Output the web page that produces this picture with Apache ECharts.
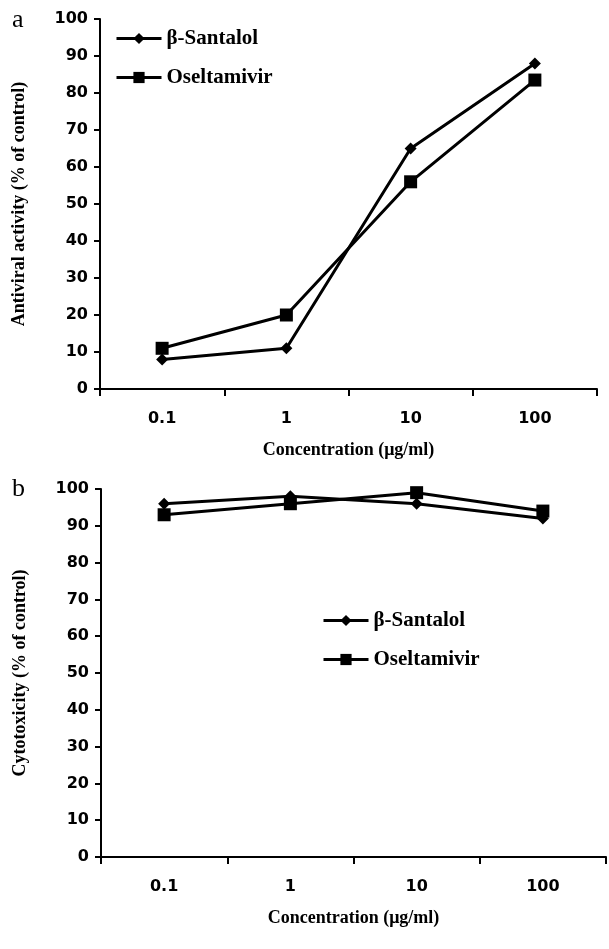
<!DOCTYPE html>
<html>
<head>
<meta charset="utf-8">
<script src="https://cdn.jsdelivr.net/npm/echarts@6/dist/echarts.min.js"></script>
<style>
  html, body { margin: 0; padding: 0; background: #fff; }
  #chart { width: 609px; height: 949px; }
</style>
</head>
<body>
<div id="chart"></div>
<script>
var concentrations = ['0.1', '1', '10', '100'];

// panel a: antiviral activity
var antiviralSantalol = [8, 11, 65, 88];
var antiviralOseltamivir = [11, 20, 56, 83.5];

// panel b: cytotoxicity
var cytoSantalol = [96, 98, 96, 92];
var cytoOseltamivir = [93, 96, 99, 94];

var tickFont = { fontFamily: 'DejaVu Sans', fontWeight: 'bold', fontSize: 16, color: '#000' };
var titleFont = 'Liberation Serif';

var chartDom = document.getElementById('chart');
var myChart = echarts.init(chartDom);

function xAxis(idx) {
    return {
        type: 'category',
        gridIndex: idx,
        data: concentrations,
        boundaryGap: true,
        name: 'Concentration (μg/ml)',
        nameLocation: 'middle',
        nameGap: 52,
        nameTextStyle: { fontFamily: titleFont, fontWeight: 'bold', fontSize: 18, color: '#000' },
        axisLine: { lineStyle: { color: '#000', width: 2 } },
        axisTick: { show: true, length: 7, lineStyle: { color: '#000', width: 2 } },
        axisLabel: Object.assign({ margin: 22 }, tickFont),
        splitLine: { show: false }
    };
}

function yAxis(idx, title) {
    return {
        type: 'value',
        gridIndex: idx,
        min: 0,
        max: 100,
        interval: 10,
        name: title,
        nameLocation: 'middle',
        nameGap: 72,
        nameTextStyle: { fontFamily: titleFont, fontWeight: 'bold', fontSize: 18, color: '#000' },
        axisLine: { show: true, lineStyle: { color: '#000', width: 2 } },
        axisTick: { show: true, length: 6, lineStyle: { color: '#000', width: 2 } },
        axisLabel: Object.assign({ margin: 12 }, tickFont),
        splitLine: { show: false }
    };
}

function line(name, data, idx, symbol, size) {
    return {
        name: name,
        type: 'line',
        xAxisIndex: idx,
        yAxisIndex: idx,
        data: data,
        symbol: symbol,
        symbolSize: size,
        showSymbol: true,
        itemStyle: { color: '#000' },
        lineStyle: { color: '#000', width: 3 },
        animation: false
    };
}

var legendText = { fontFamily: titleFont, fontWeight: 'bold', fontSize: 21, color: '#000' };
var legendNames = ['β-Santalol', 'Oseltamivir'];

var option = {
    backgroundColor: '#fff',
    animation: false,
    graphic: [
        { type: 'text', left: 12, top: 7, style: { text: 'a', font: '26px "Liberation Serif"', fill: '#000' } },
        { type: 'text', left: 12, top: 476, style: { text: 'b', font: '26px "Liberation Serif"', fill: '#000' } }
    ],
    legend: [
        {
            left: 110, top: 23, orient: 'vertical', itemGap: 18, itemWidth: 45, itemHeight: 14,
            lineStyle: { width: 3 },
            textStyle: legendText, data: legendNames
        },
        {
            left: 317, top: 605, orient: 'vertical', itemGap: 18, itemWidth: 45, itemHeight: 14,
            lineStyle: { width: 3 },
            textStyle: legendText, data: legendNames
        }
    ],
    grid: [
        { left: 100, top: 19, width: 497, height: 370 },
        { left: 101, top: 489, width: 505, height: 368 }
    ],
    xAxis: [xAxis(0), xAxis(1)],
    yAxis: [yAxis(0, 'Antiviral activity (% of control)'), yAxis(1, 'Cytotoxicity (% of control)')],
    series: [
        line('β-Santalol', antiviralSantalol, 0, 'diamond', 12),
        line('Oseltamivir', antiviralOseltamivir, 0, 'rect', 13),
        line('β-Santalol', cytoSantalol, 1, 'diamond', 12),
        line('Oseltamivir', cytoOseltamivir, 1, 'rect', 13)
    ]
};
myChart.setOption(option);
</script>
</body>
</html>
